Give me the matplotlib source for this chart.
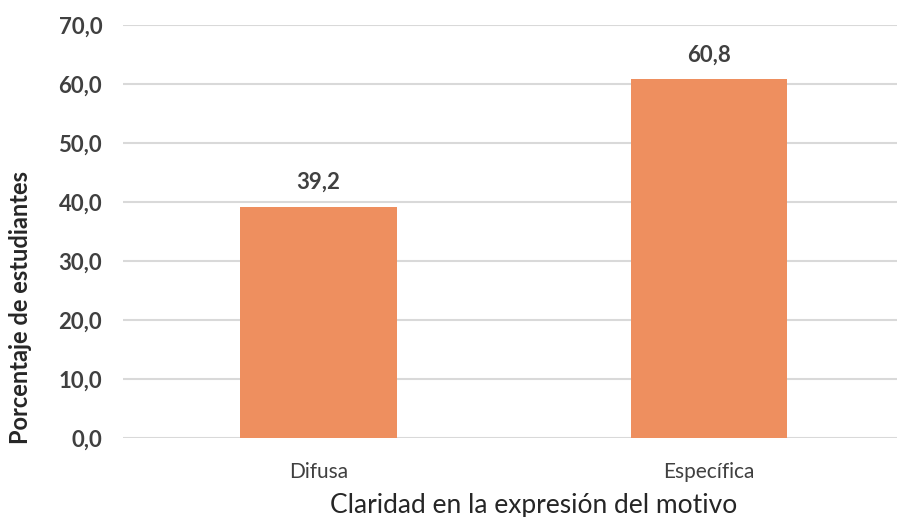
import matplotlib.pyplot as plt

categorias = ["Difusa", "Específica"]
porcentajes = [39.2, 60.8]
y_ticks = [0, 10, 20, 30, 40, 50, 60, 70]

plt.rcParams['font.family'] = ['Lato', 'DejaVu Sans']

fig = plt.figure(figsize=(8.97, 5.17), dpi=100)
ax = fig.add_axes([123 / 897, 79 / 517, 781.5 / 897, 413 / 517])

x = range(len(categorias))
bars = ax.bar(x, porcentajes, width=0.4, color="#EE8F5F", zorder=3)

for b, v in zip(bars, porcentajes):
    ax.annotate(f"{v:.1f}".replace(".", ","), (b.get_x() + b.get_width() / 2, v),
                xytext=(0, 10), textcoords="offset points", ha="center", va="bottom",
                fontsize=16, fontweight="bold", color="#404040")

ax.set_xlim(-0.5, 1.5)
ax.set_ylim(0, 70)
ax.set_yticks(y_ticks)
ax.set_yticklabels([f"{t:.1f}".replace(".", ",") for t in y_ticks],
                   fontsize=16, fontweight="bold", color="#404040")
ax.set_xticks(list(x))
ax.set_xticklabels(categorias, fontsize=15, color="#404040")
ax.tick_params(length=0)
ax.tick_params(axis="y", pad=15)
ax.tick_params(axis="x", pad=17)

ax.grid(axis="y", color="#D9D9D9", linewidth=1.5, zorder=0)
for s in ax.spines.values():
    s.set_visible(False)

fig.text(21 / 897, 1 - 307 / 517, "Porcentaje de estudiantes", rotation=90,
         ha="center", va="center", fontsize=17, fontweight="bold", color="#262626")
fig.text(534 / 897, 1 - 505 / 517, "Claridad en la expresión del motivo",
         ha="center", va="center", fontsize=19, color="#262626")

fig.savefig("out.png", dpi=100)
